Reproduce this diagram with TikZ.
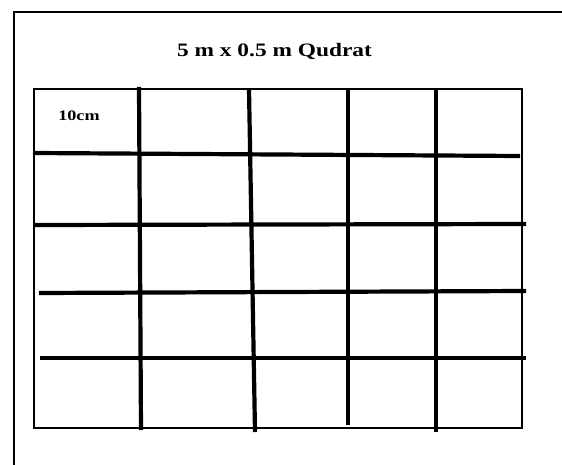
\documentclass[tikz,border=0pt]{standalone}
\usepackage{fontspec}
\setmainfont{Liberation Serif}
\begin{document}
\begin{tikzpicture}[x=1pt,y=-1pt,
  frame/.style={line width=1.5pt},
  border/.style={line width=2.6pt},
  gridline/.style={line width=4.2pt},
  lbl/.style={inner sep=0pt, anchor=base, font=\bfseries}]
\useasboundingbox (0,0) rectangle (562,465);
% outer frame
\draw[frame] (14,470) -- (14,12) -- (570,12);
% grid border
\draw[border] (34,89) rectangle (522,428);
% verticals
\draw[gridline] (139,87) -- (141,430);
\draw[gridline] (249,89) -- (255,432);
\draw[gridline] (348,89) -- (348,425);
\draw[gridline] (436,89) -- (436,432);
% horizontals
\draw[gridline] (33,153) -- (520,156);
\draw[gridline] (35,225) -- (526,224);
\draw[gridline] (39,293) -- (526,291);
\draw[gridline] (40,358) -- (526,358);
% texts
\node[lbl, xscale=1.23] (title) at (274.5,57) {\fontsize{19}{19}\selectfont 5 m x 0.5 m Qudrat};
\node[lbl, xscale=1.25] (cell) at (79,121) {\fontsize{14.5}{14.5}\selectfont 10cm};
\end{tikzpicture}
\end{document}
